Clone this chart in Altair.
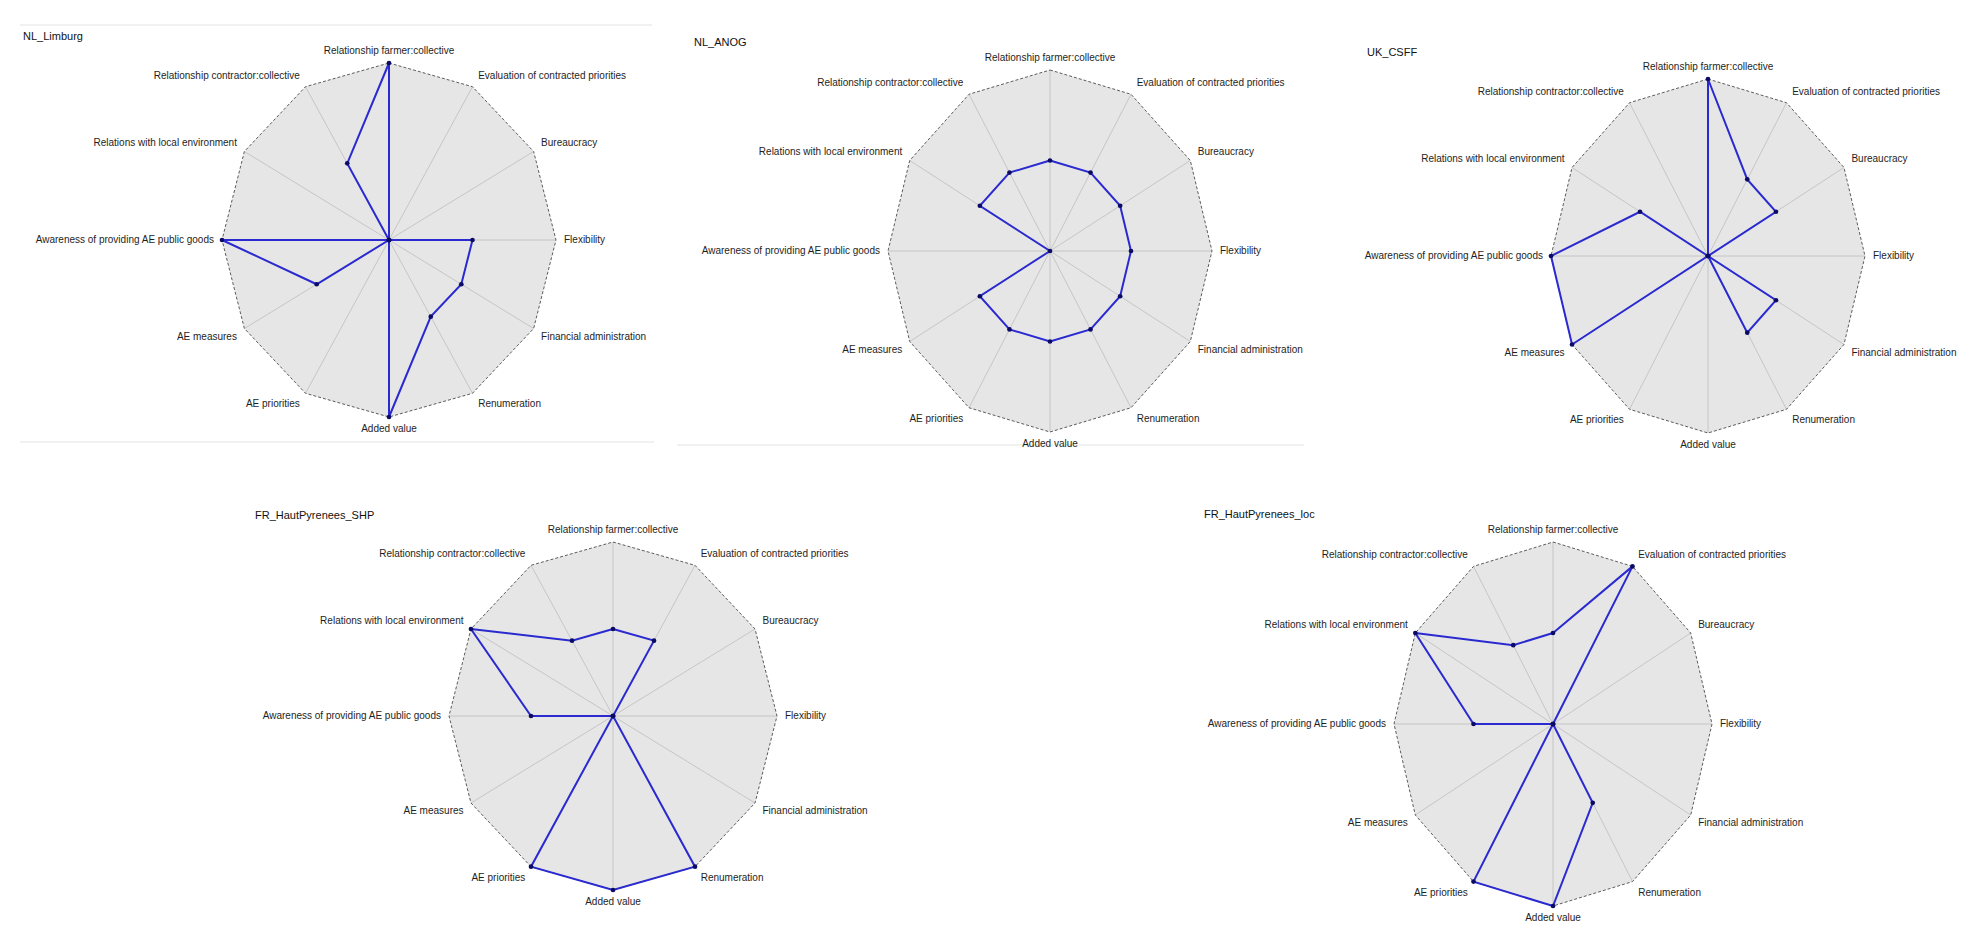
import math
import altair as alt
import pandas as pd

# ---------------- data ----------------
axes_labels = [
    "Relationship farmer:collective",
    "Evaluation of contracted priorities",
    "Bureaucracy",
    "Flexibility",
    "Financial administration",
    "Renumeration",
    "Added value",
    "AE priorities",
    "AE measures",
    "Awareness of providing AE public goods",
    "Relations with local environment",
    "Relationship contractor:collective",
]
score_max = 2
nl_limburg = [2, 0, 0, 1, 1, 1, 2, 0, 1, 2, 0, 1]
nl_anog = [1, 1, 1, 1, 1, 1, 1, 1, 1, 0, 1, 1]
uk_csff = [2, 1, 1, 0, 1, 1, 0, 0, 2, 2, 1, 0]
fr_hp_shp = [1, 1, 0, 0, 0, 2, 2, 2, 0, 1, 2, 1]
fr_hp_loc = [1, 2, 0, 0, 0, 1, 2, 2, 0, 1, 2, 1]
panel_names = ["NL_Limburg", "NL_ANOG", "UK_CSFF", "FR_HautPyrenees_SHP", "FR_HautPyrenees_loc"]

# ---------------- styling / layout ----------------
FONT = "Liberation Sans Narrow, Liberation Sans, Arial, sans-serif"
FILL = "#e6e6e6"
SPOKE = "#c2c2c2"
OUTLINE = "#5c5c5c"
LINE = "#2a2ad0"
DOT = "#0b0b66"
M = 8  # page margin

n = len(axes_labels)
angles = [2 * math.pi * k / n for k in range(n)]


def panel(name, values, center, radii, box, title_pos, frames=()):
    cx, cy = center[0] - M - box[0], center[1] - M - box[1]   # center within own cell
    rx, ry = radii
    W, H = box[2], box[3]
    xs = alt.Scale(domain=[-cx / rx, (W - cx) / rx], nice=False, zero=False)
    ys = alt.Scale(domain=[-(H - cy) / ry, cy / ry], nice=False, zero=False)

    def X(f):
        return alt.X(f, type="quantitative", scale=xs, axis=None)

    def Y(f):
        return alt.Y(f, type="quantitative", scale=ys, axis=None, stack=None)

    def px(x_page):
        return (x_page - M - box[0] - cx) / rx

    def py(y_page):
        return -(y_page - M - box[1] - cy) / ry

    # background polygon as vertical area between upper and lower boundary
    xs_v = sorted(set(round(math.sin(a), 9) for a in angles))
    half = []
    for xv in xs_v:
        yv = math.sqrt(max(0.0, 1 - xv * xv)) if abs(abs(xv) - 1) > 1e-6 else 0.0
        half.append({"xx": xv, "yu": yv, "yl": -yv})
    bg = alt.Chart(pd.DataFrame(half)).mark_area(color=FILL, opacity=1, orient="vertical").encode(
        x=X("xx"), y=Y("yu"), y2="yl"
    )

    spokes_df = pd.DataFrame({
        "x0": [0.0] * n, "y0": [0.0] * n,
        "x1": [math.sin(a) for a in angles], "y1": [math.cos(a) for a in angles],
    })
    spokes = alt.Chart(spokes_df).mark_rule(color=SPOKE, strokeWidth=0.9).encode(
        x=X("x0"), y=Y("y0"), x2="x1", y2="y1"
    )

    ring = pd.DataFrame({
        "i": list(range(n + 1)),
        "x": [math.sin(angles[k % n]) for k in range(n + 1)],
        "y": [math.cos(angles[k % n]) for k in range(n + 1)],
    })
    outline = alt.Chart(ring).mark_line(
        color=OUTLINE, strokeWidth=1, strokeDash=[3, 2]
    ).encode(x=X("x"), y=Y("y"), order="i:Q")

    r = [v / score_max for v in values]
    ser = pd.DataFrame({
        "i": list(range(n + 1)),
        "axis": [axes_labels[k % n] for k in range(n + 1)],
        "value": [values[k % n] for k in range(n + 1)],
        "x": [r[k % n] * math.sin(angles[k % n]) for k in range(n + 1)],
        "y": [r[k % n] * math.cos(angles[k % n]) for k in range(n + 1)],
    })
    line = alt.Chart(ser).mark_line(color=LINE, strokeWidth=2).encode(
        x=X("x"), y=Y("y"), order="i:Q"
    )
    dots = alt.Chart(ser.iloc[:n]).mark_circle(color=DOT, size=22, opacity=1).encode(
        x=X("x"), y=Y("y")
    )

    # axis labels placed just outside each vertex
    rows = []
    for k, a in enumerate(angles):
        s, c = math.sin(a), math.cos(a)
        sx = 0 if abs(s) < 1e-9 else (1 if s > 0 else -1)
        sy = 0 if abs(c) < 1e-9 else (1 if c > 0 else -1)
        dx_px = 8 * sx * math.sqrt(abs(s))
        dy_px = 12 * sy * math.sqrt(abs(c))  # upward positive
        rows.append({
            "label": axes_labels[k],
            "x": s + dx_px / rx,
            "y": c + dy_px / ry,
            "al": "center" if sx == 0 else ("left" if sx > 0 else "right"),
        })
    lab = pd.DataFrame(rows)
    label_layers = []
    for al in ["left", "center", "right"]:
        label_layers.append(
            alt.Chart(lab[lab["al"] == al]).mark_text(
                align=al, baseline="middle", font=FONT, fontSize=10, color="#1e1e1e"
            ).encode(x=X("x"), y=Y("y"), text="label:N")
        )

    tdf = pd.DataFrame({"t": [name], "x": [px(title_pos[0])], "y": [py(title_pos[1])]})
    title = alt.Chart(tdf).mark_text(
        align="left", baseline="middle", font="Liberation Sans, Arial, sans-serif",
        fontSize=11, color="#111111"
    ).encode(x=X("x"), y=Y("y"), text="t:N")

    layers = [bg, spokes, outline, line, dots] + label_layers + [title]

    if frames:
        fr = pd.DataFrame([{"x0": px(f[0]), "x1": px(f[1]), "y0": py(f[2])} for f in frames])
        layers.insert(0, alt.Chart(fr).mark_rule(color="#e4e4e4", strokeWidth=1.2).encode(
            x=X("x0"), x2="x1", y=Y("y0")
        ))

    return alt.layer(*layers).properties(width=W, height=H)


p1 = panel(panel_names[0], nl_limburg, (389, 240), (167, 177), (0, 0, 652, 460), (23, 37),
           frames=[(20, 652, 25), (20, 654, 442)])
p2 = panel(panel_names[1], nl_anog, (1050, 251), (162, 181), (652, 0, 660, 460), (694, 43),
           frames=[(677, 1304, 445)])
p3 = panel(panel_names[2], uk_csff, (1708, 256), (157, 177), (1312, 0, 638, 460), (1367, 53))
p4 = panel(panel_names[3], fr_hp_shp, (613, 716), (164, 174), (0, 460, 992, 458), (255, 516))
p5 = panel(panel_names[4], fr_hp_loc, (1553, 724), (159, 182), (992, 460, 958, 458), (1204, 515))

top = alt.hconcat(p1, p2, p3, spacing=0, bounds="flush")
bottom = alt.hconcat(p4, p5, spacing=0, bounds="flush")
chart = alt.vconcat(top, bottom, spacing=0, bounds="full").properties(
    padding=0, background="white"
).configure_view(stroke=None)

chart.save("out.html", embed_options={"renderer": "svg", "actions": False})
